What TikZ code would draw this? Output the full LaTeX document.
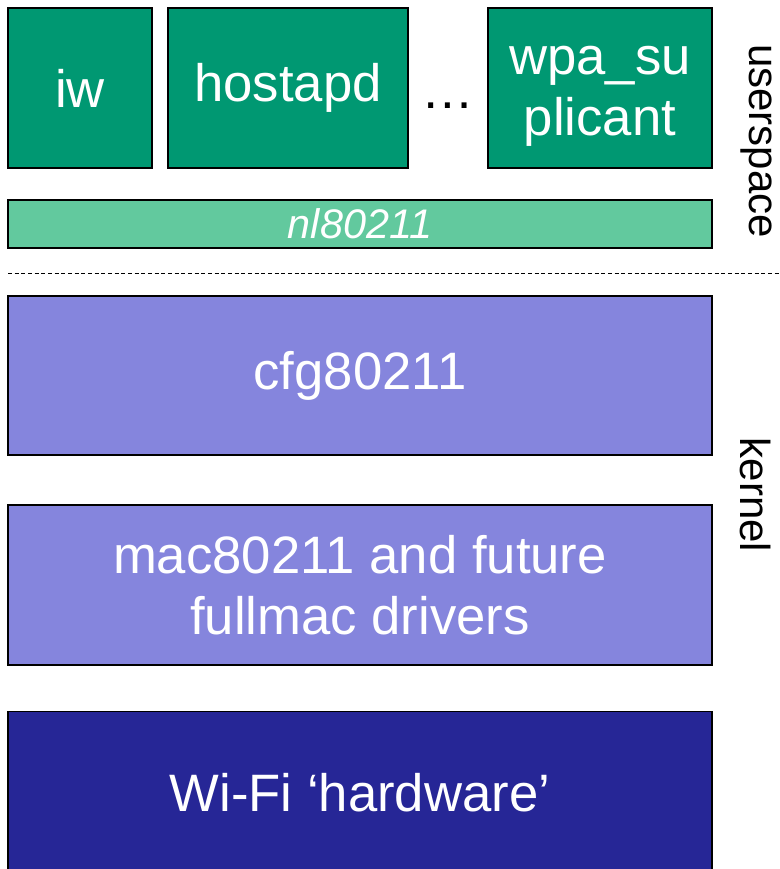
\documentclass[tikz,border=0pt]{standalone}
\usepackage{fontspec}
\setmainfont{Liberation Sans}
\definecolor{appgreen}{RGB}{0,152,114}
\definecolor{nlgreen}{RGB}{98,201,158}
\definecolor{kernblue}{RGB}{133,133,221}
\definecolor{hwblue}{RGB}{38,38,150}
\begin{document}
\begin{tikzpicture}[x=0.75pt,y=-0.75pt,
  layer/.style={draw=black,line width=1.1pt,text=white,inner sep=0pt,align=center,
    font=\fontsize{39.5}{46}\selectfont},
  side/.style={rotate=-90,inner sep=0pt,font=\fontsize{31.5}{38}\selectfont}]
  \useasboundingbox (0,0) rectangle (780,869);
  % userspace
  \node[layer,fill=appgreen,minimum width=108pt,minimum height=120pt] (iw) at (80,88) {iw};
  \node[layer,fill=appgreen,minimum width=180pt,minimum height=120pt] (hostapd) at (288,88) {hostapd};
  \node[anchor=base,font=\fontsize{39.5}{46}\selectfont] (dots) at (448,108) {…};
  \node[layer,fill=appgreen,minimum width=168pt,minimum height=120pt] (wpa) at (600,88) {};
  \node[layer,draw=none] (wpatext) at (600,96) {wpa\_su\\plicant};
  \node[layer,fill=nlgreen,minimum width=528pt,minimum height=36pt,
    font=\fontsize{31}{37}\selectfont\itshape] (nl) at (360,224) {nl80211};
  % border
  \coordinate (cutl) at (8,273);
  \coordinate (cutr) at (780,273);
  \draw[line width=0.75pt,dash pattern=on 3pt off 2pt] (cutl) -- (cutr);
  % kernel
  \node[layer,fill=kernblue,minimum width=528pt,minimum height=119pt] (cfg) at (360,375.5) {cfg80211};
  \node[layer,fill=kernblue,minimum width=528pt,minimum height=120pt] (mac) at (360,585) {mac80211 and future\\fullmac drivers};
  \node[layer,fill=hwblue,minimum width=528pt,minimum height=122pt] (hw) at (360,793) {Wi-Fi ‘hardware’};
  \node[side] (user) at (756,141) {userspace};
  \node[side] (kern) at (756,495) {kernel};
\end{tikzpicture}
\end{document}
